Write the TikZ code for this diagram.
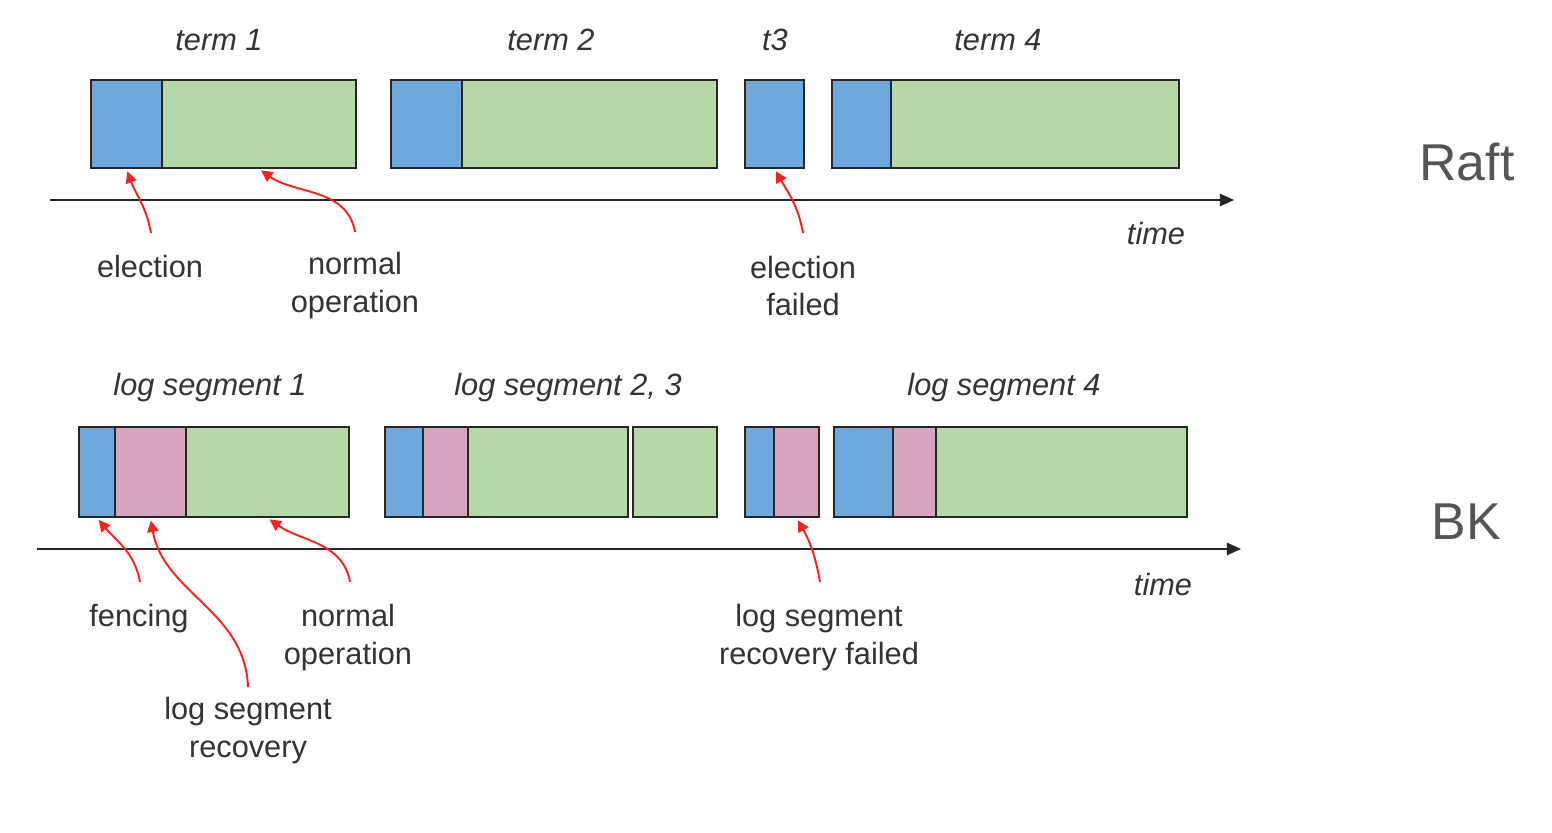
\documentclass[tikz,border=0pt]{standalone}
\usepackage{fontspec}
\setmainfont{Liberation Sans}
\usepackage{xcolor}
\usetikzlibrary{arrows.meta,positioning}
\definecolor{cElect}{HTML}{6FA8DC}
\definecolor{cNormal}{HTML}{B6D7A8}
\definecolor{cRecov}{HTML}{D5A6BD}
\definecolor{cLine}{HTML}{262626}
\definecolor{cText}{HTML}{333333}
\definecolor{cSide}{HTML}{555555}
\definecolor{cNote}{HTML}{FF2020}
\tikzset{
  seg/.style    = {rectangle, draw=cLine, line width=1.1pt, inner sep=0pt,
                   anchor=north west, minimum width=#1},
  elc/.style    = {seg=#1, fill=cElect},
  nrm/.style    = {seg=#1, fill=cNormal},
  rcv/.style    = {seg=#1, fill=cRecov},
  axis/.style   = {-{Triangle[length=8pt,width=7pt]}, draw=cLine, line width=1.1pt},
  note/.style   = {-{Triangle[length=6.5pt,width=6.5pt]}, draw=cNote, line width=1.1pt,
                   shorten >=1.5pt},
  lab/.style    = {align=center, text=cText, font=\fontsize{17.5}{21.6}\selectfont},
  ttl/.style    = {text=cText, font=\fontsize{17.5}{21}\selectfont\itshape},
  side/.style   = {text=cSide, font=\fontsize{29.5}{36}\selectfont},
}
\begin{document}
\begin{tikzpicture}[x=0.02cm, y=-0.02cm]
  \useasboundingbox[fill=white] (0,0) rectangle (1552,832);

  % Raft
  \begin{scope}[every node/.append style={minimum height=1.76cm}]
    \node[elc=1.42cm] (e1) at (90,79) {};
    \node[nrm=3.88cm] (n1) at (161,79) {};
    \node[elc=1.42cm] (e2) at (390,79) {};
    \node[nrm=5.10cm] (n2) at (461,79) {};
    \node[elc=1.18cm] (e3) at (744,79) {};
    \node[elc=1.18cm] (e4) at (831,79) {};
    \node[nrm=5.76cm] (n4) at (890,79) {};
  \end{scope}
  \node[ttl] (tTerm1) at (219,40) {term 1};
  \node[ttl] (tTerm2) at (551,40) {term 2};
  \node[ttl] (tTerm3) at (775,40) {t3};
  \node[ttl] (tTerm4) at (998,40) {term 4};

  \coordinate (axRa) at (50,200);
  \coordinate (axRb) at (1234,200);
  \draw[axis] (axRa) -- (axRb);
  \node[ttl] (tTimeR) at (1156,234) {time};

  \node[lab] (lElect) at (150,267) {election};
  \node[lab] (lNormR) at (355,286) {normal\\operation};
  \node[lab] (lFail) at (803,286) {election\\failed};
  \coordinate (aElect) at (151,233);
  \coordinate (aNormR) at (355,232);
  \coordinate (aFail) at (803,233);
  \draw[note] (aElect) to[out=100,in=-70] (e1.south);
  \draw[note] (aNormR) to[out=100,in=-35] (n1.south);
  \draw[note] (aFail) to[out=100,in=-60] (e3.south);

  \node[side] (sRaft) at (1467,162) {Raft};

  % BK
  \begin{scope}[every node/.append style={minimum height=1.80cm}]
    \node[elc=0.72cm] (f1) at (78,426) {};
    \node[rcv=1.42cm] (r1) at (114,426) {};
    \node[nrm=3.26cm] (o1) at (185,426) {};
    \node[elc=0.76cm] (f2) at (384,426) {};
    \node[rcv=0.90cm] (r2) at (422,426) {};
    \node[nrm=3.20cm] (o2) at (467,426) {};
    \node[nrm=1.68cm] (o3) at (632,426) {};
    \node[elc=0.58cm] (f3) at (744,426) {};
    \node[rcv=0.90cm] (r3) at (773,426) {};
    \node[elc=1.18cm] (f4) at (833,426) {};
    \node[rcv=0.86cm] (r4) at (892,426) {};
    \node[nrm=5.02cm] (o4) at (935,426) {};
  \end{scope}
  \node[ttl] (tSeg1) at (210,388) {log segment 1};
  \node[ttl] (tSeg2) at (568,388) {log segment 2, 3};
  \node[ttl] (tSeg4) at (1004,388) {log segment 4};

  \coordinate (axBa) at (37,549);
  \coordinate (axBb) at (1241,549);
  \draw[axis] (axBa) -- (axBb);
  \node[ttl] (tTimeB) at (1163,585) {time};

  \node[lab] (lFence) at (139,619) {fencing};
  \node[lab] (lNormB) at (348,638) {normal\\operation};
  \node[lab] (lRecov) at (248,731) {log segment\\recovery};
  \node[lab] (lRecFail) at (819,638) {log segment\\recovery failed};
  \coordinate (aFence) at (140,582);
  \coordinate (aRecov) at (248,687);
  \coordinate (aNormB) at (350,582);
  \coordinate (aRecFail) at (820,582);
  \draw[note] (aFence) to[out=100,in=-50] (f1.south);
  \draw[note] (aRecov) to[out=92,in=-80] (r1.south);
  \draw[note] (aNormB) to[out=100,in=-35] (o1.south);
  \draw[note] (aRecFail) to[out=100,in=-60] (r3.south);

  \node[side] (sBK) at (1466,522) {BK};
\end{tikzpicture}
\end{document}
